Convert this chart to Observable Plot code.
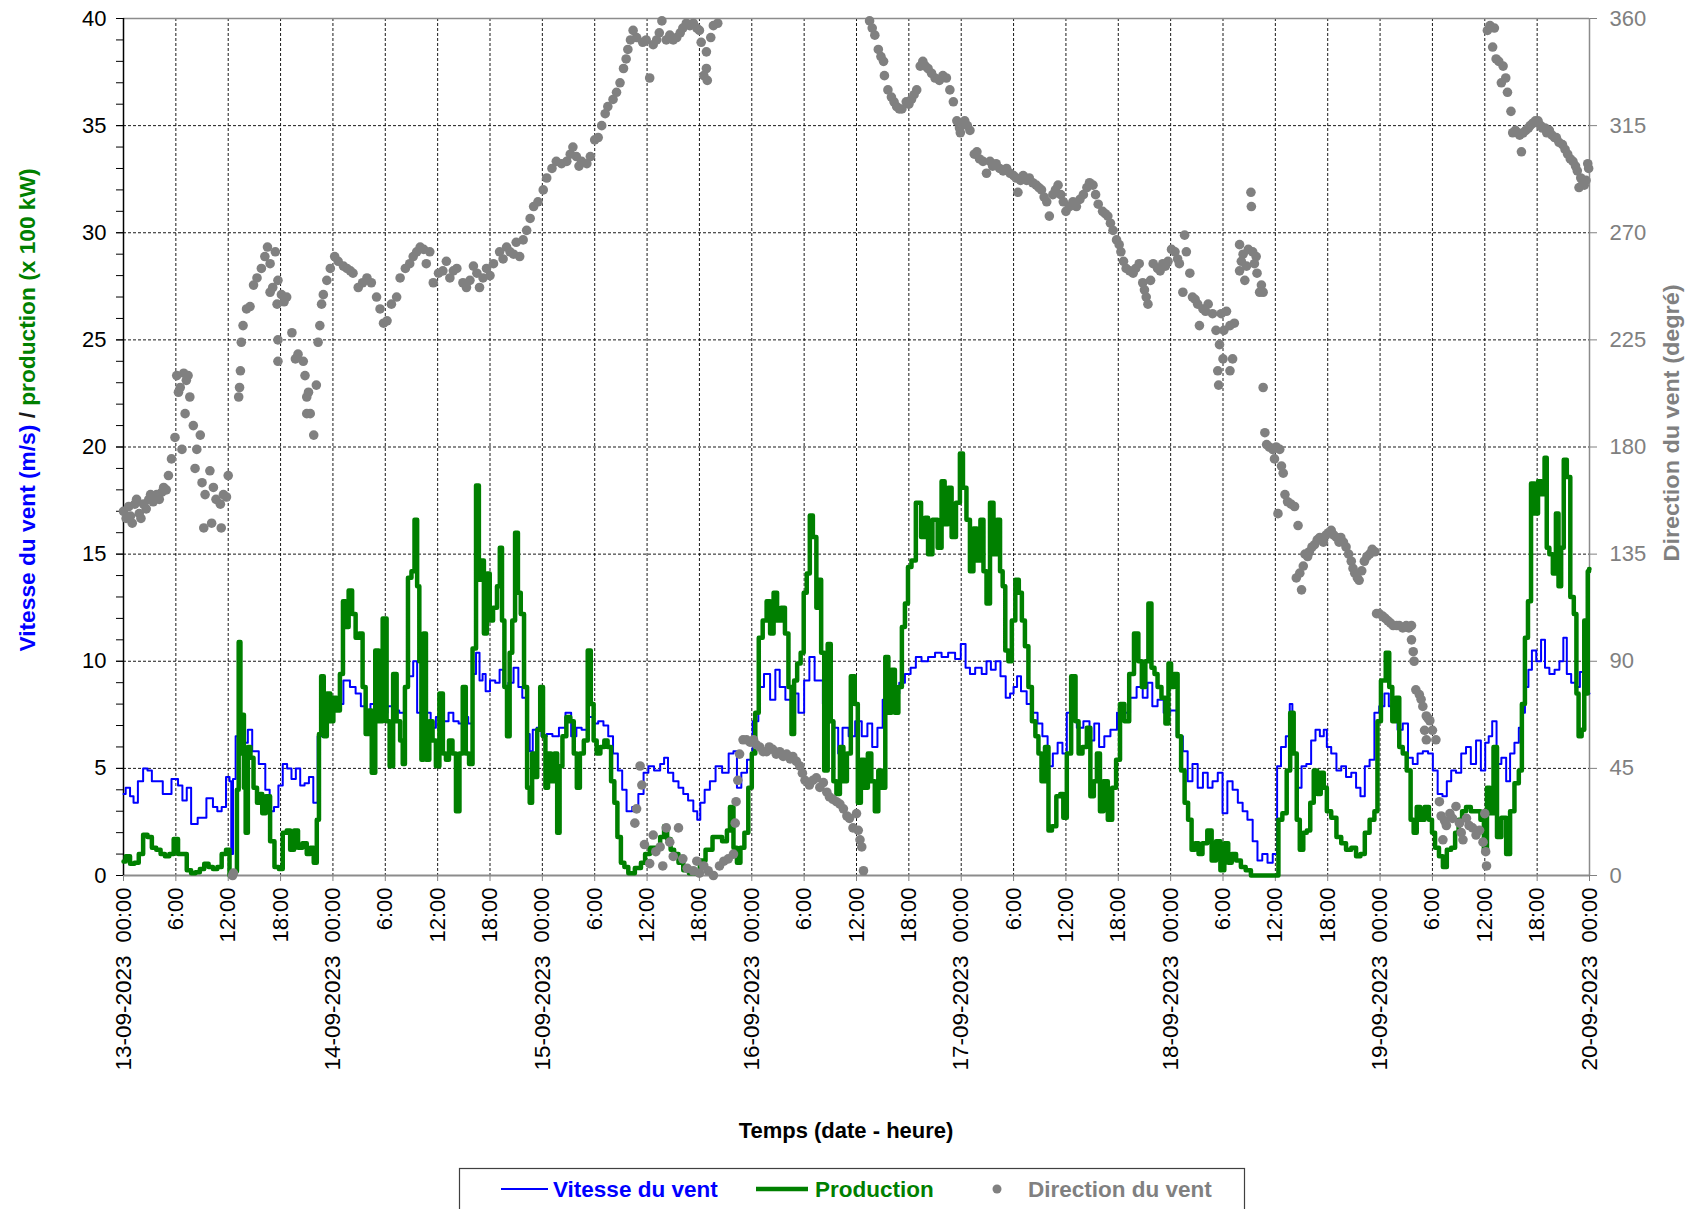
<!DOCTYPE html>
<html><head><meta charset="utf-8">
<script src="https://cdn.jsdelivr.net/npm/d3@7"></script>
<script src="https://cdn.jsdelivr.net/npm/@observablehq/plot@0.6"></script>
<style>
body{margin:0;background:#fff;font-family:"Liberation Sans",Arial,sans-serif;}
#wrap{position:relative;width:1701px;height:1209px;overflow:hidden;background:#fff;}
#wrap svg{position:absolute;left:0;top:0;}
</style></head>
<body><div id="wrap"></div>
<script>
// ---- DATA (hours since 13-09-2023 00:00) ----
const speedSeries = [[0,3.8],[0.5,4.1],[1,3.7],[1.3,3.4],[2,4.4],[2.5,5.0],[3,4.9],[3.5,4.4],[4,4.4],[5,3.8],[6,4.5],[6.5,4.2],[7,3.5],[7.5,4.1],[8,2.4],[9,2.7],[10,3.6],[10.5,3.2],[11,3.0],[11.5,3.2],[12,4.6],[12.3,4.4],[12.4,1.0],[12.7,4.5],[13,6.5],[13.5,7.0],[14,6.2],[14.5,6.8],[15,5.8],[16,5.2],[16.5,4.0],[17,3.0],[17.5,3.2],[18,4.2],[18.5,5.2],[19,5.0],[19.5,4.5],[20,5.0],[20.5,4.2],[21,4.3],[21.5,4.6],[22,3.4],[22.5,6.5],[23.3,7.9],[24,8.3],[24.8,8.0],[25.6,9.1],[26.3,8.8],[26.9,8.5],[27.5,7.9],[28,7.7],[28.6,8.0],[29.4,7.7],[30,7.6],[30.5,7.9],[31.3,7.7],[31.9,7.6],[32.4,8.8],[33,9.3],[33.4,10.0],[33.9,7.6],[34.5,7.7],[35,7.6],[35.4,6.9],[36.2,7.4],[37,7.2],[37.5,7.6],[38.1,7.2],[38.7,7.1],[39.2,7.4],[39.8,7.1],[40.2,9.4],[40.6,10.4],[41,9.1],[41.3,9.4],[41.7,8.6],[42.3,9.1],[42.9,9.0],[43.3,9.6],[43.8,8.8],[44.4,9.0],[45,9.7],[45.5,8.8],[45.9,8.3],[46.4,6.6],[46.7,5.8],[47.1,6.8],[47.6,6.9],[48.2,6.5],[48.8,6.6],[49.5,6.5],[50.3,6.9],[51,7.6],[51.6,6.5],[52.2,6.9],[52.8,6.8],[53.6,7.4],[54.1,7.1],[54.7,7.2],[55.3,7.0],[55.8,6.5],[56.4,5.7],[56.9,4.9],[57.4,4.0],[57.9,3.0],[58.7,3.2],[59.3,3.8],[59.9,4.8],[60.4,5.1],[61.2,4.9],[61.8,5.2],[62.1,5.5],[62.7,4.8],[63.3,4.4],[63.9,4.1],[64.4,3.8],[65,3.5],[65.6,3.0],[65.9,2.6],[66.3,3.4],[66.9,4.0],[67.5,4.4],[68.2,5.1],[69,4.8],[69.7,5.7],[70.1,5.8],[70.5,4.1],[71.1,4.8],[71.8,5.4],[72.4,7.2],[73.1,8.8],[73.7,9.4],[74.5,8.2],[74.9,9.6],[75.5,8.8],[76.2,8.2],[77,8.5],[77.7,7.6],[78.3,9.1],[78.9,10.2],[79.5,9.1],[79.9,9.1],[80.4,8.0],[81.2,7.2],[81.7,6.9],[82.1,5.7],[82.7,6.9],[83.5,6.5],[84.2,7.2],[85,6.5],[85.5,7.1],[86.1,6.0],[86.7,6.9],[87.3,8.2],[88,8.0],[88.6,8.5],[89.2,9.0],[89.9,9.4],[90.5,9.7],[91.1,10.2],[91.8,10.0],[92.6,10.2],[93.4,10.4],[94.1,10.2],[94.9,10.4],[95.7,10.1],[96.2,10.8],[96.8,9.7],[97.2,9.4],[98,9.7],[98.7,9.4],[99.1,10.0],[99.7,9.6],[100.2,10.0],[100.8,9.3],[101.4,8.3],[101.8,8.5],[102.2,8.8],[102.6,9.3],[103.1,8.6],[103.9,8.0],[104.5,7.6],[105,7.1],[105.6,6.5],[106.2,5.1],[106.8,5.7],[107.3,6.2],[107.9,5.7],[108.3,7.6],[108.9,7.2],[109.6,6.9],[110.4,7.2],[111,6.3],[111.5,7.1],[112.1,6.0],[112.7,6.5],[113.5,6.8],[114.2,7.6],[115,7.6],[115.7,8.3],[116.5,8.8],[117.1,8.3],[117.6,9.0],[118.2,7.9],[118.8,8.2],[119.6,7.6],[120.3,7.7],[121.1,6.5],[121.7,5.8],[122.2,4.4],[122.8,5.2],[123.4,4.1],[124,4.8],[124.5,4.1],[125.1,4.4],[125.7,4.8],[126.2,2.9],[126.8,4.4],[127.4,4.0],[128,3.4],[128.5,3.0],[129.1,2.6],[129.7,1.6],[130.2,0.7],[130.8,1.0],[131.4,0.6],[132,1.0],[132.4,5.1],[132.9,6.0],[133.5,6.5],[133.8,8.0],[134.1,5.7],[134.7,4.1],[135.3,5.1],[135.8,5.2],[136.4,6.3],[136.8,6.8],[137.4,6.5],[137.7,6.8],[138.1,6.0],[138.7,5.7],[139.3,4.9],[139.8,5.1],[140.4,4.6],[141,4.8],[141.5,4.1],[142,3.7],[142.5,5.1],[143.1,5.4],[143.6,7.6],[144.2,7.9],[144.8,8.5],[145.2,7.9],[145.7,7.2],[146.3,6.8],[146.9,7.1],[147.5,5.5],[148,5.2],[148.6,5.7],[149.2,5.8],[149.8,5.7],[150.3,4.9],[150.9,3.8],[151.4,3.7],[151.9,4.4],[152.4,4.9],[153,4.8],[153.6,5.7],[154.1,6.0],[154.7,5.2],[155.3,6.3],[155.8,4.9],[156.3,6.2],[156.6,6.5],[157.1,7.2],[157.6,5.2],[158.2,5.5],[158.7,4.4],[159.1,5.7],[159.7,6.2],[160.1,6.9],[160.4,7.6],[160.8,8.8],[161.2,9.6],[161.6,10.5],[162.2,10.0],[162.7,11.0],[163.1,9.7],[163.7,9.4],[164.3,9.6],[164.8,10.0],[165.2,11.1],[165.6,9.4],[166.2,9.0],[166.6,8.8],[167.2,9.5],[167.7,9.3],[168,8.5]];

const productionSeries = [[0,0.65],[0.5,0.9],[1,0.55],[1.5,0.6],[2,1.0],[2.5,1.9],[3,1.8],[3.5,1.3],[4,1.2],[4.5,1.0],[5,0.9],[5.5,1.0],[6,1.7],[6.5,1.0],[7,1.0],[7.5,0.25],[8,0.1],[8.5,0.15],[9,0.3],[9.5,0.55],[10,0.4],[10.5,0.3],[11,0.4],[11.5,1.0],[12,1.2],[12.3,0],[12.9,0.2],[13.1,4.0],[13.3,10.9],[13.5,5.7],[13.7,7.5],[13.9,4.1],[14.1,2.0],[14.4,6.0],[14.7,5.5],[15.1,4.1],[15.5,3.4],[15.8,3.8],[16,2.9],[16.6,3.7],[17,1.6],[17.6,0.4],[18,0.3],[18.5,2.0],[18.9,2.1],[19.3,1.2],[19.8,2.1],[20.2,1.3],[20.8,1.5],[21.2,1.0],[21.6,1.3],[22,0.6],[22.3,2.6],[22.5,6.6],[22.8,9.3],[23.1,6.5],[23.5,8.5],[23.9,7.2],[24.2,8.3],[24.6,7.7],[25,9.4],[25.3,12.8],[25.6,11.6],[26,13.3],[26.4,12.2],[26.8,11.1],[27.2,11.3],[27.6,8.8],[27.9,6.6],[28.3,7.7],[28.6,4.8],[29.1,10.5],[29.4,7.2],[30,12.0],[30.3,7.2],[30.7,5.1],[31.1,9.4],[31.5,7.2],[31.9,6.3],[32.1,5.2],[32.4,8.8],[32.8,13.9],[33.2,14.2],[33.5,16.6],[33.8,13.5],[34,10.0],[34.28,5.4],[34.47,11.3],[34.85,5.4],[35.24,7.2],[35.6,6.3],[36,5.1],[36.4,8.5],[36.8,5.7],[37.1,5.4],[37.5,6.3],[37.9,5.7],[38.3,3.0],[38.7,5.7],[39.05,8.8],[39.4,5.7],[39.8,5.2],[40.2,10.6],[40.6,18.2],[40.85,13.8],[41.15,14.7],[41.45,11.3],[41.84,14.1],[42.1,11.9],[42.6,12.5],[43,13.5],[43.25,15.3],[43.5,11.9],[43.8,8.8],[44.1,6.5],[44.4,10.4],[44.7,11.9],[45.05,16.0],[45.35,13.2],[45.7,12.2],[46.1,8.8],[46.4,4.1],[46.7,3.4],[46.95,5.7],[47.26,4.6],[47.56,6.8],[47.95,8.8],[48.2,6.5],[48.5,4.1],[48.8,5.7],[49.2,4.4],[49.55,5.7],[49.85,2.0],[50.1,5.1],[50.5,6.5],[51,7.4],[51.4,7.2],[51.8,5.7],[52.1,4.1],[52.5,5.7],[53,6.3],[53.4,10.5],[53.7,8.0],[54.05,6.3],[54.4,5.7],[54.9,6.0],[55.3,6.3],[55.65,6.0],[56.1,4.4],[56.4,3.4],[56.8,1.8],[57.2,0.6],[57.6,0.4],[58.1,0.1],[59.1,0.35],[59.5,0.6],[60.05,1.0],[60.6,1.3],[61.2,1.3],[61.8,1.8],[62.1,2.3],[62.5,1.7],[62.9,1.2],[63.3,1.0],[63.9,0.6],[64.4,0.25],[65.2,0.1],[65.8,0.1],[66.3,0.7],[67.1,1.2],[67.9,1.8],[68.2,1.8],[69,1.6],[69.3,2.1],[69.7,3.2],[70.1,1.3],[70.5,0.6],[70.9,1.3],[71.4,2.0],[71.8,4.1],[72.2,5.7],[72.6,7.6],[73,11.1],[73.5,11.9],[73.9,12.8],[74.3,11.3],[74.7,13.2],[75.1,11.9],[75.6,12.5],[76,11.3],[76.4,8.8],[76.7,6.6],[77,9.1],[77.4,9.9],[77.8,10.4],[78.1,13.2],[78.5,14.1],[78.8,16.8],[79.2,15.8],[79.6,12.5],[79.8,13.8],[80.1,10.4],[80.5,4.9],[80.9,10.8],[81.2,7.2],[81.5,4.4],[81.9,3.8],[82.3,6.0],[82.7,4.4],[83.1,5.7],[83.6,9.3],[84,8.0],[84.3,3.4],[84.7,5.4],[85.1,4.1],[85.5,5.7],[85.9,4.4],[86.3,3.0],[86.7,4.9],[87.1,4.1],[87.5,10.2],[87.8,7.6],[88.2,9.6],[88.6,7.6],[89,8.8],[89.4,11.6],[89.7,12.7],[90.1,14.4],[90.5,14.7],[91.1,17.4],[91.7,15.8],[92,16.7],[92.4,15.0],[93,16.6],[93.6,15.3],[93.9,18.4],[94.3,16.4],[94.7,18.1],[95.1,15.8],[95.7,17.4],[96,19.7],[96.4,18.1],[96.8,16.6],[97.2,14.2],[97.6,16.2],[98,14.7],[98.4,16.6],[98.7,14.2],[99.1,12.7],[99.5,17.4],[99.9,15.0],[100.3,16.6],[100.6,14.2],[100.9,13.5],[101.2,10.5],[101.6,10.0],[102,11.9],[102.4,13.8],[102.8,13.2],[103.1,11.9],[103.5,10.7],[103.9,8.8],[104.3,7.2],[104.7,6.5],[105,5.7],[105.4,4.4],[105.8,6.0],[106.2,2.1],[106.6,2.3],[107.2,3.7],[107.5,3.8],[107.9,2.7],[108.3,5.7],[108.9,9.3],[109.3,7.2],[109.6,5.7],[110.2,6.0],[110.6,6.9],[111,3.7],[111.4,4.4],[111.7,5.7],[112.1,3.0],[112.5,4.4],[113.1,2.6],[113.5,4.1],[114,5.4],[114.4,8.0],[115,7.2],[115.5,9.4],[116.1,11.3],[116.5,10.0],[116.9,8.8],[117.3,10.0],[117.6,12.7],[118,9.7],[118.3,9.4],[118.7,8.8],[119.2,8.3],[119.6,7.1],[119.9,9.9],[120.2,8.8],[120.6,9.4],[121,6.5],[121.4,4.9],[121.8,3.4],[122.2,2.6],[122.6,1.2],[123,1.5],[123.4,1.0],[123.9,1.5],[124.5,2.1],[124.9,0.7],[125.5,1.6],[125.9,0.25],[126.4,1.5],[126.8,0.6],[127.2,1.0],[127.8,0.7],[128.3,0.4],[128.9,0.25],[129.5,0],[132.2,0],[132.5,2.6],[133.1,2.9],[133.5,4.9],[133.9,7.6],[134.3,5.7],[134.6,2.6],[135,1.2],[135.4,2.0],[135.8,2.1],[136.2,3.4],[136.6,4.9],[137,3.8],[137.4,4.8],[137.7,4.1],[138.1,3.0],[138.7,2.7],[139.3,1.8],[139.8,1.5],[140.4,1.2],[141,1.3],[141.5,0.9],[142,1.0],[142.5,2.0],[143.1,2.6],[143.6,3.0],[143.8,7.2],[144.4,9.1],[144.9,10.4],[145.2,8.8],[145.6,7.2],[146,8.3],[146.4,6.0],[146.8,5.7],[147.3,4.9],[147.7,2.6],[148,2.0],[148.4,3.2],[148.8,2.6],[149.4,3.2],[149.8,2.6],[150.1,2.0],[150.5,1.3],[151,0.9],[151.4,0.4],[151.9,1.2],[152.4,1.3],[152.8,2.0],[153.2,2.6],[153.6,3.0],[154.1,3.2],[154.7,3.0],[155.3,3.0],[155.7,2.6],[156.1,1.2],[156.4,4.1],[156.8,2.9],[157.2,6.0],[157.6,1.8],[158.2,2.7],[158.7,1.0],[159.1,3.0],[159.7,4.3],[160.1,4.9],[160.4,8.0],[160.8,11.1],[161.1,12.8],[161.5,18.3],[161.9,16.9],[162.3,18.4],[162.7,17.8],[163,19.5],[163.2,15.3],[163.6,15.0],[164,14.1],[164.3,16.9],[164.6,13.5],[164.9,15.3],[165.2,19.4],[165.6,18.6],[166,13.0],[166.4,12.2],[166.6,8.5],[166.9,6.5],[167.3,6.8],[167.5,11.9],[167.7,8.5],[167.9,14.2],[168,14.3]];

const directionSeries = [[0,153],[0.3,150],[0.6,155],[0.8,151],[1.0,148],[1.3,156],[1.5,158],[1.8,152],[2.0,150],[2.3,156],[2.6,154],[2.9,158],[3.1,160],[3.4,157],[3.8,160],[4.1,158],[4.4,161],[4.6,163],[4.9,162],[5.15,168],[5.5,175],[5.9,184],[6.1,210],[6.3,203],[6.5,205],[6.7,179],[6.9,211],[7.06,194],[7.2,208],[7.4,210],[7.6,201],[8.0,189],[8.2,171],[8.4,179],[8.8,185],[9.0,165],[9.2,146],[9.35,160],[9.9,170],[10.1,148],[10.3,163],[10.6,158],[11.1,156],[11.2,146],[11.45,160],[11.8,159],[12.0,168],[12.5,0],[12.6,1],[13.2,201],[13.3,205],[13.4,212],[13.5,224],[13.7,231],[14.1,238],[14.5,239],[14.9,248],[15.3,251],[15.8,255],[16.2,260],[16.5,264],[16.8,257],[16.8,245],[17.1,247],[17.4,262],[17.6,240],[17.7,250],[17.7,225],[17.7,216],[18.1,244],[18.4,241],[18.7,243],[19.3,228],[19.7,217],[20.0,219],[20.6,216],[20.8,210],[21.0,201],[21.0,194],[21.2,203],[21.4,194],[21.8,185],[22.1,206],[22.3,224],[22.5,231],[22.7,240],[22.9,244],[23.3,250],[23.7,255],[24.2,260],[24.6,258],[25.2,256],[25.6,255],[26.0,254],[26.3,253],[26.9,247],[27.4,249],[27.9,251],[28.4,249],[29.0,243],[29.4,238],[29.8,232],[30.2,233],[30.7,240],[31.3,243],[31.7,251],[32.3,255],[32.8,257],[33.2,260],[33.6,262],[34.0,264],[34.4,263],[34.7,257],[35.1,262],[35.5,249],[36.1,253],[36.6,254],[37.0,258],[37.4,251],[37.8,254],[38.2,255],[38.9,249],[39.3,247],[39.7,250],[40.1,256],[40.5,253],[40.8,247],[41.2,251],[41.6,255],[42.0,252],[42.4,257],[43.1,262],[43.5,259],[43.9,264],[44.3,262],[44.7,261],[45.0,266],[45.4,260],[45.8,267],[46.2,271],[46.6,276],[47.0,281],[47.5,283],[48.1,288],[48.5,293],[49.1,297],[49.6,300],[50.2,299],[50.8,300],[51.2,303],[51.5,306],[51.9,302],[52.2,298],[52.5,300],[53.1,299],[53.5,302],[54.0,309],[54.4,310],[54.8,315],[55.2,320],[55.5,323],[56.1,326],[56.5,329],[56.9,333],[57.3,339],[57.6,343],[57.8,347],[58.1,351],[58.4,355],[58.8,352],[59.5,350],[59.9,351],[60.3,335],[60.7,349],[61.1,351],[61.4,354],[61.7,359],[62.2,351],[62.6,353],[63.0,351],[63.4,352],[63.8,354],[64.1,356],[64.5,358],[64.9,357],[65.3,358],[65.7,356],[66.0,355],[66.2,350],[66.5,336],[66.8,346],[66.8,339],[66.9,334],[67.3,352],[67.6,357],[68.1,358],[58.6,22],[58.8,28],[59.2,46],[59.4,38],[59.7,13],[60.3,5],[60.7,17],[61.0,10],[61.5,12],[61.8,4],[62.2,20],[62.6,14],[63.0,8],[63.6,20],[64.1,7],[64.6,3],[65.3,2],[65.7,6],[66.0,1],[66.5,4],[67.0,2],[67.6,0],[68.3,4],[68.8,6],[69.3,7],[69.9,9],[70.1,22],[70.2,31],[70.4,40],[70.6,51],[71.0,57],[71.4,57],[71.8,56],[72.2,57],[72.5,55],[72.9,54],[73.3,52],[73.7,52],[74.0,54],[74.4,53],[74.8,51],[75.2,52],[75.6,50],[76.0,51],[76.4,49],[76.7,50],[77.1,48],[77.5,46],[77.8,43],[78.1,40],[78.6,38],[79.0,40],[79.4,41],[79.8,37],[80.2,39],[80.6,35],[80.9,33],[81.3,32],[81.7,31],[82.1,30],[82.5,28],[82.9,25],[83.2,24],[83.6,20],[84.0,26],[84.2,19],[84.4,15],[84.6,12],[84.8,2],[85.5,359],[85.8,356],[86.1,353],[86.5,347],[86.8,344],[87.1,342],[87.2,336],[87.6,330],[88.0,327],[88.3,325],[88.6,323],[88.9,322],[89.2,322],[89.7,325],[90.0,324],[90.3,326],[90.6,328],[90.9,330],[91.3,340],[91.6,342],[91.9,340],[92.2,339],[92.6,337],[93.0,335],[93.5,334],[93.9,336],[94.3,335],[94.7,330],[95.1,325],[95.5,317],[95.8,314],[95.9,312],[96.1,316],[96.4,317],[96.7,315],[97.0,313],[97.5,303],[97.8,304],[98.1,301],[98.5,300],[98.9,295],[99.3,300],[99.6,298],[100.0,299],[100.4,297],[100.8,296],[101.2,297],[101.6,295],[102.0,294],[102.3,293],[102.5,287],[102.8,292],[103.1,294],[103.5,292],[103.8,293],[104.2,291],[104.6,290],[104.9,289],[105.2,288],[105.5,285],[105.8,283],[106.1,277],[106.5,286],[106.8,288],[107.1,290],[107.4,286],[107.7,283],[108.0,279],[108.4,281],[108.8,283],[109.2,281],[109.6,284],[110.0,286],[110.4,289],[110.7,291],[111.1,290],[111.4,286],[111.7,282],[112.2,279],[112.5,278],[112.8,277],[113.1,274],[113.4,271],[113.8,267],[114.1,265],[114.3,262],[114.6,258],[114.9,255],[115.3,254],[115.7,253],[116.0,255],[116.4,257],[116.8,249],[117.0,246],[117.2,243],[117.4,240],[117.7,250],[118.0,257],[118.5,255],[118.8,254],[119.1,257],[119.4,256],[119.7,258],[120.1,263],[120.5,262],[120.8,259],[121.0,257],[121.4,245],[121.6,269],[121.8,262],[122.2,253],[122.5,243],[122.8,242],[123.1,240],[123.3,231],[123.7,238],[124.0,237],[124.3,240],[124.8,236],[125.2,229],[125.6,223],[125.4,212],[125.5,206],[126.0,217],[125.8,236],[126.1,229],[126.4,237],[126.8,231],[127.1,217],[126.8,212],[127.3,232],[127.9,265],[127.9,254],[128.1,258],[128.3,261],[128.5,250],[128.7,256],[128.9,263],[129.2,287],[129.25,281],[129.4,262],[129.6,257],[129.8,260],[129.9,253],[130.2,245],[130.4,248],[130.6,245],[130.6,205],[130.8,186],[131.0,181],[131.3,180],[131.7,179],[131.9,175],[132.1,180],[132.3,152],[132.5,179],[132.7,172],[132.9,169],[133.1,160],[133.4,157],[133.8,156],[134.2,155],[134.4,125],[134.6,147],[134.8,127],[135.0,120],[135.2,130],[135.4,135],[135.7,134],[135.9,136],[136.2,138],[136.5,139],[136.8,141],[137.1,142],[137.5,140],[137.8,143],[138.1,144],[138.4,145],[138.7,143],[139.0,142],[139.3,140],[139.5,142],[139.8,140],[140.1,138],[140.4,135],[140.7,132],[140.9,129],[141.1,127],[141.4,125],[141.6,124],[141.9,128],[142.2,132],[142.5,134],[142.8,135],[143.1,137],[143.4,136],[143.6,110],[143.9,110],[144.3,109],[144.6,108],[144.9,107],[145.2,106],[145.5,105],[145.9,105],[146.2,105],[146.6,104],[147.0,105],[147.3,104],[147.6,105],[147.6,99],[147.8,94],[147.9,90],[148.1,78],[148.5,76],[148.7,74],[148.9,71],[149.1,61],[149.3,67],[149.3,57],[149.5,66],[149.7,65],[150.0,61],[150.4,57],[150.8,31],[151.0,25],[151.2,15],[151.4,23],[151.6,21],[152.0,26],[152.3,24],[152.7,29],[153.1,22],[153.3,18],[153.5,15],[153.9,24],[154.2,21],[154.6,20],[155.0,17],[155.4,19],[155.8,14],[156.0,26],[156.1,10],[156.2,4],[156.3,355],[156.6,357],[156.9,348],[157.1,356],[157.3,343],[157.6,342],[157.9,333],[158.1,340],[158.4,335],[158.6,329],[159.0,321],[159.2,312],[159.5,313],[159.8,312],[160.0,311],[160.2,304],[160.4,312],[160.7,313],[161.0,314],[161.2,315],[161.5,316],[161.8,317],[162.1,317],[162.4,315],[162.6,314],[162.9,314],[163.1,312],[163.4,313],[163.7,311],[164.0,310],[164.2,310],[164.5,308],[164.9,307],[165.2,305],[165.5,303],[165.8,301],[166.1,300],[166.4,298],[166.6,296],[166.8,289],[167.0,293],[167.2,292],[167.4,290],[167.6,292],[167.8,299],[167.9,297]];

const hourTicks = [0,6,12,18,24,30,36,42,48,54,60,66,72,78,84,90,96,102,108,114,120,126,132,138,144,150,156,162,168];
const dayTicks = [0,24,48,72,96,120,144,168];
const dayLabels = ["13-09-2023","14-09-2023","15-09-2023","16-09-2023","17-09-2023","18-09-2023","19-09-2023","20-09-2023"];
const leftTicks = [0,5,10,15,20,25,30,35,40];
const rightTickLabels = [0,45,90,135,180,225,270,315,360];

// ---- CHART ----
const START = Date.UTC(2023, 8, 13, 0, 0);
const T = h => new Date(START + h * 3600000);
const speed = speedSeries.map(([h, v]) => ({t: T(h), v}));
const production = productionSeries.map(([h, v]) => ({t: T(h), v}));
const direction = directionSeries.map(([h, v]) => ({t: T(h), v: v / 9}));
const hourLabel = h => (h % 24 === 0 ? "00:00" : `${h % 24}:00`);
const FONT = "'Liberation Sans', Arial, sans-serif";

const chart = Plot.plot({
  width: 1701, height: 1209,
  marginLeft: 123, marginRight: 112, marginTop: 18, marginBottom: 334,
  style: {fontFamily: FONT, fontSize: "22px", background: "transparent", color: "#000"},
  x: {type: "utc", domain: [T(0), T(168)], label: null},
  y: {domain: [0, 40], label: null},
  marks: [
    Plot.gridY(leftTicks.slice(1, -1), {stroke: "#000", strokeOpacity: 0.9, strokeWidth: 1, strokeDasharray: "3,2"}),
    Plot.gridX(hourTicks.slice(1, -1).map(T), {stroke: "#000", strokeOpacity: 0.9, strokeWidth: 1, strokeDasharray: "3,2"}),
    Plot.ruleY([40], {stroke: "#8c8c8c", strokeWidth: 1.5}),
    Plot.ruleX([T(168)], {stroke: "#8c8c8c", strokeWidth: 1.5}),
    Plot.axisY(d3.range(0, 41, 1), {anchor: "left", tickSize: 7, tickFormat: () => "", label: null, stroke: "#000"}),
    Plot.axisY(leftTicks, {anchor: "left", tickSize: 7, tickPadding: 10, label: null, color: "#000", fontSize: 22}),
    Plot.axisY(leftTicks, {anchor: "right", tickSize: 7, tickPadding: 13, label: null, color: "#808080", fontSize: 22,
      tickFormat: (d, i) => String(rightTickLabels[i])}),
    Plot.axisX(hourTicks.map(T), {tickSize: 6, tickFormat: () => "", label: null, stroke: "#808080"}),
    Plot.text(hourTicks, {x: d => T(d), y: 0, text: d => hourLabel(d), rotate: -90, textAnchor: "end", lineAnchor: "middle", dy: 12, fontSize: 22, fill: "#000"}),
    Plot.text(dayTicks, {x: d => T(d), y: 0, text: (d, i) => dayLabels[i], rotate: -90, textAnchor: "end", lineAnchor: "middle", dy: 80, fontSize: 22.5, fill: "#000"}),
    Plot.ruleY([0], {stroke: "#8c8c8c", strokeWidth: 2}),
    Plot.ruleX([T(0)], {stroke: "#000", strokeWidth: 1.5}),
    Plot.line(speed, {x: "t", y: "v", stroke: "#0000ff", strokeWidth: 2, curve: "step"}),
    Plot.line(production, {x: "t", y: "v", stroke: "#008000", strokeWidth: 4.5, curve: "step"}),
    Plot.dot(direction, {x: "t", y: "v", r: 4.8, fill: "#808080", stroke: "none"})
  ]
});
const wrap = document.getElementById("wrap");
wrap.appendChild(chart);

// ---- titles and legend overlay ----
const ov = d3.select(wrap).append("svg").attr("width", 1701).attr("height", 1209)
  .style("font-family", FONT).style("pointer-events", "none");

const lt = ov.append("text").attr("transform", "translate(27,410) rotate(-90)")
  .attr("text-anchor", "middle").attr("dominant-baseline", "central")
  .attr("font-weight", "bold").attr("font-size", 22)
  .attr("textLength", 483).attr("lengthAdjust", "spacingAndGlyphs");
lt.append("tspan").attr("fill", "#0000ff").text("Vitesse du vent (m/s) ");
lt.append("tspan").attr("fill", "#1a1a1a").text("/ ");
lt.append("tspan").attr("fill", "#008000").text("production (x 100 kW)");

ov.append("text").attr("transform", "translate(1671,423) rotate(-90)")
  .attr("text-anchor", "middle").attr("dominant-baseline", "central")
  .attr("font-weight", "bold").attr("font-size", 22).attr("fill", "#808080")
  .attr("textLength", 277).attr("lengthAdjust", "spacingAndGlyphs")
  .text("Direction du vent (degré)");

ov.append("text").attr("x", 846).attr("y", 1130)
  .attr("text-anchor", "middle").attr("dominant-baseline", "central")
  .attr("font-weight", "bold").attr("font-size", 22).attr("fill", "#000")
  .text("Temps (date - heure)");

const lg = ov.append("g");
lg.append("rect").attr("x", 459.5).attr("y", 1168.5).attr("width", 785).attr("height", 70)
  .attr("fill", "#fff").attr("stroke", "#404040").attr("stroke-width", 1.2);
lg.append("line").attr("x1", 501).attr("x2", 548).attr("y1", 1189).attr("y2", 1189).attr("stroke", "#0000ff").attr("stroke-width", 2);
lg.append("text").attr("x", 553).attr("y", 1189).attr("dominant-baseline", "central").attr("font-weight", "bold").attr("font-size", 22.5).attr("fill", "#0000ff").text("Vitesse du vent");
lg.append("line").attr("x1", 756).attr("x2", 808).attr("y1", 1189).attr("y2", 1189).attr("stroke", "#008000").attr("stroke-width", 4.5);
lg.append("text").attr("x", 815).attr("y", 1189).attr("dominant-baseline", "central").attr("font-weight", "bold").attr("font-size", 22.5).attr("fill", "#008000").text("Production");
lg.append("circle").attr("cx", 997).attr("cy", 1189).attr("r", 4.5).attr("fill", "#808080");
lg.append("text").attr("x", 1028).attr("y", 1189).attr("dominant-baseline", "central").attr("font-weight", "bold").attr("font-size", 22.5).attr("fill", "#808080").text("Direction du vent");
</script>
</body></html>
